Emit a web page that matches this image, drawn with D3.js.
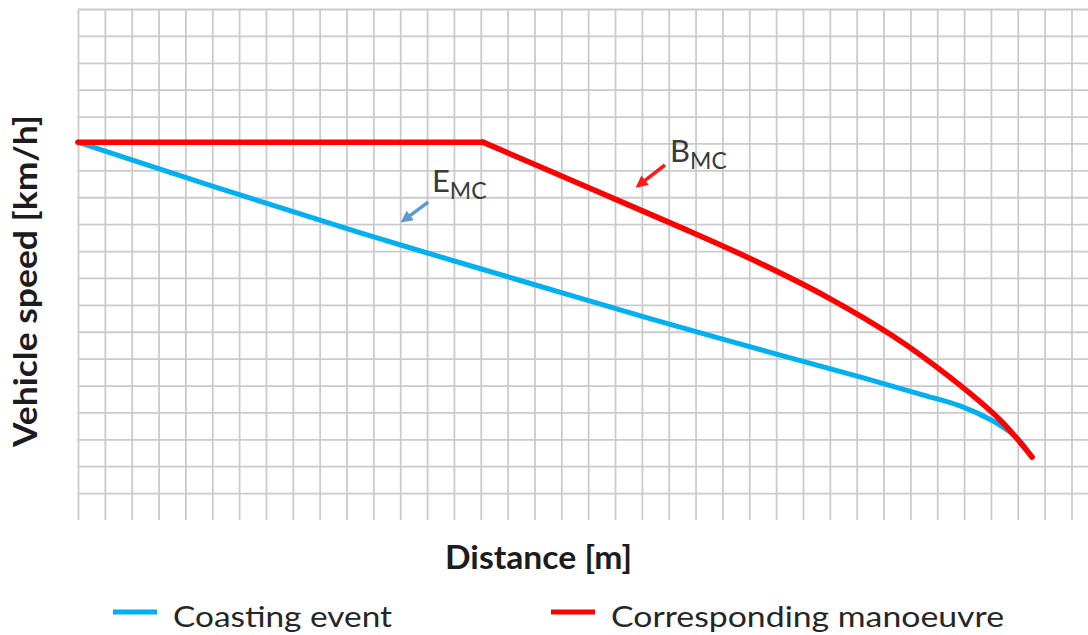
<!DOCTYPE html>
<html>
<head>
<meta charset="utf-8">
<title>Coasting event vs corresponding manoeuvre</title>
<script src="https://d3js.org/d3.v7.min.js"></script>
<style>
body { margin: 0; background: #fff; }
svg text { font-family: Lato, "Open Sans", sans-serif; }
</style>
</head>
<body>
<svg id="chart" width="1088" height="635"></svg>
<script>
// distance / speed in grid units (one unit = one grid cell)
var coastDist  = [0, 3.72, 7.45, 11.17, 14.9, 18.7, 22.42, 26.15, 29.12, 31.36, 32.85, 34.08, 34.71, 35.08, 35.53];
var coastSpeed = [14.05, 12.83, 11.64, 10.48, 9.37, 8.25, 7.17, 6.13, 5.32, 4.68, 4.24, 3.68, 3.27, 2.94, 2.34];

var manDist  = [0, 15.08, 18.7, 22.42, 25.4, 27.9, 30.35, 32.48, 34.34, 35.53];
var manSpeed = [14.05, 14.05, 12.49, 10.89, 9.55, 8.29, 6.84, 5.3, 3.72, 2.34];

var gridCols = d3.range(0, 38);   // vertical grid lines
var gridRows = d3.range(1, 20);   // horizontal grid lines

var seriesNames  = ["Coasting event", "Corresponding manoeuvre"];
var seriesColors = ["#00b0f0", "#ff0000"];

var svg = d3.select("#chart");

var x = d3.scaleLinear().domain([0, 37]).range([78, 1071.5]);
var y = d3.scaleLinear().domain([0, 19]).range([520, 9]);

// grid drawn with axes, labels off
var gx = svg.append("g")
  .attr("transform", "translate(0," + y(0) + ")")
  .call(d3.axisBottom(x).tickValues(gridCols).tickSize(-(y(0) - y(19))).tickFormat(""));
gx.select(".domain").remove();

var gy = svg.append("g")
  .attr("transform", "translate(" + x(0) + ",0)")
  .call(d3.axisLeft(y).tickValues(gridRows).tickSize(-(1088 - x(0))).tickFormat(""));
gy.select(".domain").remove();

svg.selectAll(".tick line").attr("stroke", "#cbcbcb").attr("stroke-width", 1.8);

var coast = coastDist.map(function(d, i) { return [d, coastSpeed[i]]; });
var man   = manDist.map(function(d, i) { return [d, manSpeed[i]]; });

var line = d3.line()
  .x(function(d) { return x(d[0]); })
  .y(function(d) { return y(d[1]); });

svg.append("path")
  .attr("d", line.curve(d3.curveCatmullRom.alpha(0.5))(coast))
  .attr("fill", "none").attr("stroke", seriesColors[0])
  .attr("stroke-width", 5).attr("stroke-linecap", "round");

// flat part, then the braking curve (sharp corner between them)
svg.append("path")
  .attr("d", line.curve(d3.curveLinear)(man.slice(0, 2)))
  .attr("fill", "none").attr("stroke", seriesColors[1])
  .attr("stroke-width", 5.5).attr("stroke-linecap", "round");
svg.append("path")
  .attr("d", line.curve(d3.curveCatmullRom.alpha(0.5))(man.slice(1)))
  .attr("fill", "none").attr("stroke", seriesColors[1])
  .attr("stroke-width", 5.5).attr("stroke-linecap", "round").attr("stroke-linejoin", "round");

// annotations
var notes = [
  { main: "E", sub: "MC", at: [13.18, 12.19], from: [13.04, 11.82], to: [11.99, 11.04], color: "#5b9bd5" },
  { main: "B", sub: "MC", at: [22.05, 13.31], from: [21.86, 13.2], to: [20.74, 12.34], color: "#ff1a1a" }
];

var defs = svg.append("defs");
notes.forEach(function(n, i) {
  defs.append("marker")
    .attr("id", "head" + i)
    .attr("markerUnits", "userSpaceOnUse")
    .attr("viewBox", "0 0 10 10")
    .attr("markerWidth", 13).attr("markerHeight", 12)
    .attr("refX", 2).attr("refY", 5)
    .attr("orient", "auto")
    .append("path").attr("d", "M0,0 L10,5 L0,10 z").attr("fill", n.color);

  var x1 = x(n.from[0]), y1 = y(n.from[1]), x2 = x(n.to[0]), y2 = y(n.to[1]);
  var len = Math.sqrt((x2 - x1) * (x2 - x1) + (y2 - y1) * (y2 - y1));
  var cut = 8 * 1.3;
  svg.append("line")
    .attr("x1", x1).attr("y1", y1)
    .attr("x2", x2 - (x2 - x1) / len * cut).attr("y2", y2 - (y2 - y1) / len * cut)
    .attr("stroke", n.color).attr("stroke-width", 3.5)
    .attr("marker-end", "url(#head" + i + ")");

  var t = svg.append("text")
    .attr("x", x(n.at[0])).attr("y", y(n.at[1]))
    .attr("fill", "#3a3a3a").style("font-size", "31px");
  t.append("tspan").text(n.main);
  t.append("tspan").attr("dy", 7).style("font-size", "23px").text(n.sub);
});

// axis titles
svg.append("text")
  .attr("transform", "translate(37,281) rotate(-90)")
  .attr("text-anchor", "middle")
  .attr("textLength", 332).attr("lengthAdjust", "spacingAndGlyphs")
  .attr("fill", "#1c1c1c").style("font-size", "33px").style("font-weight", "bold")
  .text("Vehicle speed [km/h]");

svg.append("text")
  .attr("x", 538.5).attr("y", 569)
  .attr("text-anchor", "middle")
  .attr("textLength", 187).attr("lengthAdjust", "spacingAndGlyphs")
  .attr("fill", "#1c1c1c").style("font-size", "32px").style("font-weight", "bold")
  .text("Distance [m]");

// legend
var legendX = [113, 551];
var legendW = [219, 393];
seriesNames.forEach(function(name, i) {
  svg.append("line")
    .attr("x1", legendX[i]).attr("x2", legendX[i] + 44)
    .attr("y1", 612).attr("y2", 612)
    .attr("stroke", seriesColors[i]).attr("stroke-width", 5);
  svg.append("text")
    .attr("x", legendX[i] + 60).attr("y", 627)
    .attr("textLength", legendW[i]).attr("lengthAdjust", "spacingAndGlyphs")
    .attr("fill", "#262626").style("font-size", "29px")
    .text(name);
});
</script>
</body>
</html>
